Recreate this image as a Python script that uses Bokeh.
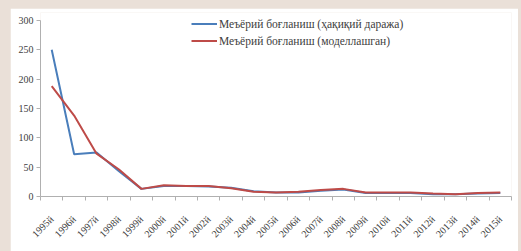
from bokeh.plotting import figure
from bokeh.models import FixedTicker, Legend, LegendItem, ColumnDataSource, GlobalInlineStyleSheet, Range1d
from bokeh.embed import file_html
from bokeh.resources import INLINE
import math

years = ["1995й", "1996й", "1997й", "1998й", "1999й", "2000й", "2001й", "2002й", "2003й", "2004й",
         "2005й", "2006й", "2007й", "2008й", "2009й", "2010й", "2011й", "2012й", "2013й", "2014й", "2015й"]
series_blue = [250, 72, 75, 43, 13, 18, 18, 17, 15, 9, 7, 7, 10, 12, 6, 6, 6, 4, 4, 5, 6]
series_red = [188, 138, 73, 46, 13, 19, 18, 18, 14, 8, 7, 8, 11, 13, 7, 7, 7, 5, 4, 6, 7]
label_blue = "Меъёрий боғланиш (ҳақиқий даража)"
label_red = "Меъёрий боғланиш (моделлашган)"
y_ticks = [0, 50, 100, 150, 200, 250, 300]

xs = list(range(len(years)))
src = ColumnDataSource(dict(x=xs, b=series_blue, r=series_red))

p = figure(width=508, height=243, output_backend="svg", toolbar_location=None,
           x_range=Range1d(-0.5, len(years) - 0.5), y_range=Range1d(0, 313.6),
           min_border_left=30, min_border_right=7, min_border_top=4, min_border_bottom=55)
p.background_fill_color = "white"
p.border_fill_color = "white"
p.outline_line_color = None
p.grid.visible = False

lb = p.line("x", "b", source=src, line_color="#4a7ebb", line_width=2)
lr = p.line("x", "r", source=src, line_color="#be4b48", line_width=2)

serif = "Liberation Serif"
p.xaxis.ticker = FixedTicker(ticks=xs, minor_ticks=[i - 0.5 for i in range(len(years) + 1)])
p.xaxis.major_label_overrides = {i: y for i, y in enumerate(years)}
p.xaxis.major_label_orientation = math.pi / 4
p.xaxis.major_tick_out = 0
p.xaxis.major_tick_in = 0
p.xaxis.minor_tick_out = 4
p.xaxis.minor_tick_in = 0
p.xaxis.minor_tick_line_color = "#b0b0b0"
p.xaxis.axis_line_color = "#b0b0b0"
p.xaxis.major_label_text_font = serif
p.xaxis.major_label_text_font_size = "10px"
p.xaxis.major_label_text_color = "#404040"
p.xaxis.major_label_standoff = 17

p.yaxis.ticker = FixedTicker(ticks=y_ticks, minor_ticks=[])
p.yaxis.bounds = (0, 300)
p.yaxis.major_tick_out = 4
p.yaxis.major_tick_in = 0
p.yaxis.major_tick_line_color = "#b0b0b0"
p.yaxis.axis_line_color = "#b0b0b0"
p.yaxis.major_label_text_font = serif
p.yaxis.major_label_text_font_size = "10px"
p.yaxis.major_label_text_color = "#404040"
p.yaxis.major_label_standoff = 3

legend = Legend(items=[LegendItem(label=label_blue, renderers=[lb]),
                       LegendItem(label=label_red, renderers=[lr])],
                location=(151, 147), padding=2, spacing=0, margin=0,
                glyph_width=26, glyph_height=17, label_height=17, label_standoff=2,
                label_text_font=serif, label_text_font_size="11.5px", label_text_color="#404040",
                border_line_color=None, background_fill_alpha=0)
p.add_layout(legend)

p.stylesheets = [GlobalInlineStyleSheet(
    css="html,body{margin:0;padding:0;background-color:#eae0d8;overflow:hidden;}"
        "body{padding:8px 0 0 10px;}")]

open("out.html", "w").write(file_html(p, INLINE))
